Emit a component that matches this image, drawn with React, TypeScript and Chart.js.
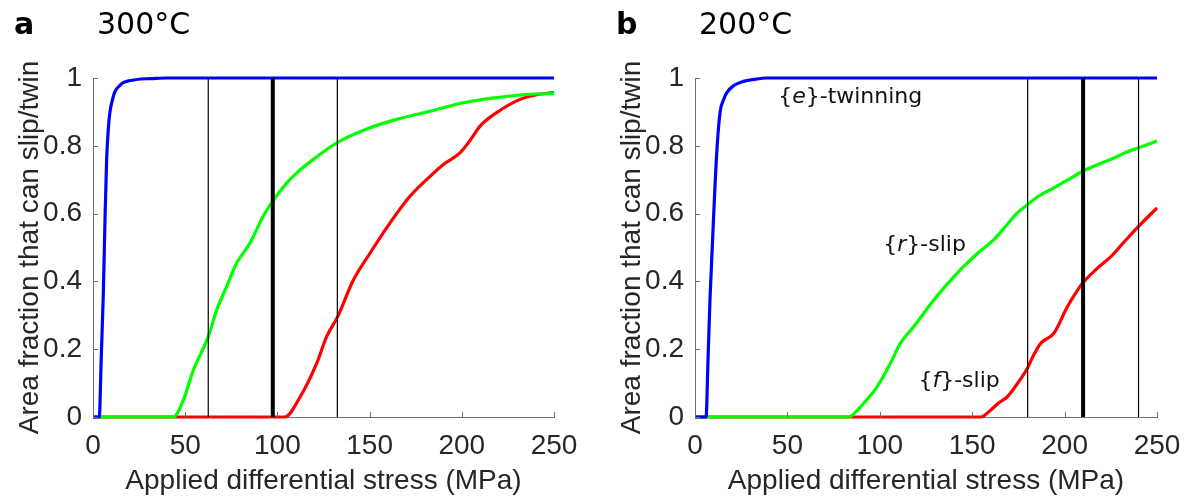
import React, { useEffect, useRef } from "react";
import { Chart, registerables } from "chart.js";

Chart.register(...registerables);

// ---------- data ----------
const xTickValues = [0, 50, 100, 150, 200, 250];
const yTickValues = [0, 0.2, 0.4, 0.6, 0.8, 1];

// Panel a (300°C)
const aBlueX = [0, 3.4, 4.5, 5.6, 6.5, 7.4, 8.3, 9.2, 10.5, 11.9, 14, 16, 18.3, 22, 26, 31, 40, 250];
const aBlueY = [0, 0, 0.18, 0.365, 0.58, 0.76, 0.85, 0.9, 0.935, 0.96, 0.975, 0.985, 0.99, 0.994, 0.997, 0.998, 1, 1];
const aGreenX = [0, 43.6, 49, 54.4, 62.5, 67.1, 72.5, 77.9, 85.1, 92.3, 97.4, 105, 110.5, 119.5, 132.7, 150.2, 164.7, 182.8, 200.8, 218.9, 237, 250];
const aGreenY = [0, 0, 0.05, 0.138, 0.237, 0.316, 0.385, 0.454, 0.513, 0.592, 0.636, 0.69, 0.72, 0.76, 0.81, 0.853, 0.878, 0.902, 0.927, 0.942, 0.952, 0.954];
const aRedX = [0, 104, 112.3, 121.3, 126.7, 132.7, 141.2, 150.2, 161, 171.9, 182.8, 190, 199, 205, 209.9, 218.9, 231.6, 240, 250];
const aRedY = [0, 0, 0.059, 0.158, 0.237, 0.296, 0.404, 0.483, 0.572, 0.651, 0.71, 0.745, 0.779, 0.82, 0.858, 0.898, 0.937, 0.95, 0.957];
const aThinLines = [62.5, 132.5];
const aThickLines = [97.5];

// Panel b (200°C)
const bBlueX = [0, 6.0, 7.0, 8.1, 9.5, 10.8, 12.0, 13.6, 15.4, 17.2, 21, 26.2, 32, 38.9, 250];
const bBlueY = [0, 0, 0.16, 0.345, 0.52, 0.68, 0.8, 0.9, 0.935, 0.957, 0.978, 0.99, 0.996, 1, 1];
const bGreenX = [0, 83.1, 87, 91.2, 98.5, 105.7, 111.1, 118.3, 129.2, 137, 145.4, 153, 161.7, 168, 174.4, 179.8, 186, 194.2, 202, 209.8, 218, 226.7, 233, 240, 250];
const bGreenY = [0, 0, 0.015, 0.04, 0.089, 0.158, 0.217, 0.266, 0.345, 0.395, 0.444, 0.483, 0.523, 0.562, 0.602, 0.626, 0.652, 0.676, 0.7, 0.725, 0.745, 0.764, 0.78, 0.794, 0.814];
const bRedX = [0, 154.5, 159.9, 164, 168.9, 174, 179.8, 183, 187, 194.2, 201.5, 209.8, 217, 225, 232, 240, 250];
const bRedY = [0, 0, 0.02, 0.04, 0.059, 0.095, 0.143, 0.18, 0.217, 0.247, 0.325, 0.395, 0.435, 0.473, 0.515, 0.562, 0.617];
const bThinLines = [180, 240];
const bThickLines = [210];

// Annotations (panel b): data position of the left edge / vertical centre
const bLabelPre = ["{", "{", "{"];
const bLabelItalic = ["e", "r", "f"];
const bLabelPost = ["}-twinning", "}-slip", "}-slip"];
const bLabelX = [45, 101.9, 120.9];
const bLabelY = [0.943, 0.508, 0.104];

const xTitle = "Applied differential stress (MPa)";
const yTitle = "Area fraction that can slip/twin";

// ---------- helpers ----------
const zip = (xs: number[], ys: number[]) => xs.map((x, i) => ({ x, y: ys[i] }));
const AXIS_COLOR = "#707070";
const TEXT_COLOR = "#262626";
const TICK_FONT = "'Liberation Sans', Arial, sans-serif";
const LABEL_FONT = "'DejaVu Sans', Verdana, sans-serif";
const FS = 28;

type PanelProps = {
  letter: string;
  temp: string;
  blue: [number[], number[]];
  green: [number[], number[]];
  red: [number[], number[]];
  thin: number[];
  thick: number[];
  labels?: boolean;
  left: number;
  width: number;
  axisWidth: number;
  padRight: number;
};

function Panel(p: PanelProps) {
  const ref = useRef<HTMLCanvasElement | null>(null);
  useEffect(() => {
    if (!ref.current) return;
    const curve = (d: [number[], number[]], color: string) => ({
      data: zip(d[0], d[1]),
      borderColor: color,
      backgroundColor: color,
      borderWidth: 3.2,
      pointRadius: 0,
      cubicInterpolationMode: "monotone" as const,
      clip: false as const,
      order: 2,
    });
    const vline = (x: number, w: number) => ({
      data: [
        { x, y: 0 },
        { x, y: 1 },
      ],
      borderColor: "#000000",
      backgroundColor: "#000000",
      borderWidth: w,
      pointRadius: 0,
      clip: false as const,
      order: 1,
    });

    const decor = {
      id: "decor",
      afterDatasetsDraw(chart: any) {
        const { ctx, chartArea, scales } = chart;
        ctx.save();
        // inward tick marks
        ctx.strokeStyle = AXIS_COLOR;
        ctx.lineWidth = 1;
        for (const v of xTickValues) {
          const px = Math.round(scales.x.getPixelForValue(v)) + 0.5;
          ctx.beginPath();
          ctx.moveTo(px, chartArea.bottom);
          ctx.lineTo(px, chartArea.bottom - 5);
          ctx.stroke();
        }
        for (const v of yTickValues) {
          const py = Math.round(scales.y.getPixelForValue(v)) + 0.5;
          ctx.beginPath();
          ctx.moveTo(chartArea.left, py);
          ctx.lineTo(chartArea.left + 5, py);
          ctx.stroke();
        }
        // annotations
        if (p.labels) {
          ctx.fillStyle = "#111111";
          ctx.textBaseline = "middle";
          ctx.textAlign = "left";
          for (let i = 0; i < bLabelX.length; i++) {
            let x = scales.x.getPixelForValue(bLabelX[i]);
            const y = scales.y.getPixelForValue(bLabelY[i]);
            ctx.font = `22px ${LABEL_FONT}`;
            ctx.fillText(bLabelPre[i], x, y);
            x += ctx.measureText(bLabelPre[i]).width;
            ctx.font = `italic 22px ${LABEL_FONT}`;
            ctx.fillText(bLabelItalic[i], x, y);
            x += ctx.measureText(bLabelItalic[i]).width;
            ctx.font = `22px ${LABEL_FONT}`;
            ctx.fillText(bLabelPost[i], x, y);
          }
        }
        // panel titles
        ctx.fillStyle = "#000000";
        ctx.textBaseline = "alphabetic";
        ctx.textAlign = "left";
        ctx.font = `bold 30px ${LABEL_FONT}`;
        ctx.fillText(p.letter, chartArea.left - 79, 34);
        ctx.font = `30px ${LABEL_FONT}`;
        ctx.fillText(p.temp, chartArea.left + 4, 34);
        ctx.restore();
      },
    };

    const chart = new Chart(ref.current, {
      type: "line",
      data: {
        datasets: [
          curve(p.blue, "#0000ff"),
          curve(p.green, "#00ff00"),
          curve(p.red, "#ff0000"),
          ...p.thin.map((x) => vline(x, 1.2)),
          ...p.thick.map((x) => vline(x, 4)),
        ] as any,
      },
      options: {
        animation: false,
        responsive: false,
        devicePixelRatio: 1,
        layout: { padding: { top: 78, right: p.padRight, left: 0, bottom: 0 } },
        plugins: { legend: { display: false }, tooltip: { enabled: false }, title: { display: false } },
        scales: {
          x: {
            type: "linear",
            min: 0,
            max: 250,
            afterFit: (s: any) => {
              s.height = 82;
            },
            afterBuildTicks: (s: any) => {
              s.ticks = xTickValues.map((v) => ({ value: v }));
            },
            grid: { display: true, drawOnChartArea: false, drawTicks: false },
            border: { display: true, color: AXIS_COLOR, width: 1 },
            ticks: {
              color: TEXT_COLOR,
              font: { family: TICK_FONT, size: FS },
              padding: 12,
              maxRotation: 0,
              autoSkip: false,
              callback: (v: any) => String(v),
            },
            title: {
              display: true,
              text: xTitle,
              color: TEXT_COLOR,
              font: { family: TICK_FONT, size: FS },
              padding: { top: 0, bottom: 1 },
            },
          },
          y: {
            type: "linear",
            min: 0,
            max: 1,
            afterFit: (s: any) => {
              s.width = p.axisWidth;
            },
            afterBuildTicks: (s: any) => {
              s.ticks = yTickValues.map((v) => ({ value: v }));
            },
            grid: { display: true, drawOnChartArea: false, drawTicks: false },
            border: { display: true, color: AXIS_COLOR, width: 1 },
            ticks: {
              color: TEXT_COLOR,
              font: { family: TICK_FONT, size: FS },
              padding: 11,
              autoSkip: false,
              callback: (v: any) => String(Math.round(Number(v) * 10) / 10),
            },
            title: {
              display: true,
              text: yTitle,
              color: TEXT_COLOR,
              font: { family: TICK_FONT, size: FS },
              padding: { top: 13 + (p.axisWidth - 93), bottom: 0 },
            },
          },
        },
      },
      plugins: [decor],
    } as any);
    return () => chart.destroy();
  }, []);
  return (
    <canvas
      ref={ref}
      width={p.width}
      height={499}
      style={{ position: "absolute", left: p.left, top: 0, width: p.width, height: 499 }}
    />
  );
}

export default function App() {
  return (
    <div style={{ position: "absolute", left: 0, top: 0, width: 1185, height: 499, background: "#ffffff", overflow: "hidden" }}>
      <Panel
        letter="a"
        temp="300°C"
        blue={[aBlueX, aBlueY]}
        green={[aGreenX, aGreenY]}
        red={[aRedX, aRedY]}
        thin={aThinLines}
        thick={aThickLines}
        left={0}
        width={600}
        axisWidth={93}
        padRight={46}
      />
      <Panel
        letter="b"
        temp="200°C"
        blue={[bBlueX, bBlueY]}
        green={[bGreenX, bGreenY]}
        red={[bRedX, bRedY]}
        thin={bThinLines}
        thick={bThickLines}
        labels
        left={595}
        width={610}
        axisWidth={100}
        padRight={48}
      />
    </div>
  );
}
